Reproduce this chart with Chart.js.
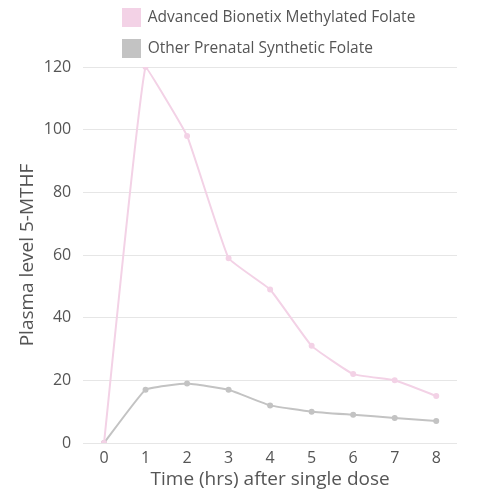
<!DOCTYPE html>
<html>
<head>
<meta charset="utf-8">
<script src="https://cdn.jsdelivr.net/npm/chart.js@4"></script>
<style>
    html, body { margin: 0; padding: 0; background: #fff; }
    #wrap { width: 500px; height: 500px; }
</style>
</head>
<body>
<div id="wrap"><canvas id="folateChart"></canvas></div>
<script>
const hours = ["0", "1", "2", "3", "4", "5", "6", "7", "8"];
const bionetixLevels = [0, 120, 98, 59, 49, 31, 22, 20, 15];
const syntheticLevels = [0, 17, 19, 17, 12, 10, 9, 8, 7];
const yTicks = [0, 20, 40, 60, 80, 100, 120];

const pink = "#f3d2e6";
const grey = "#c3c3c3";
const textColor = "#555555";
const fontFamily = "'Open Sans'";

// push the legend over to the right, the reference has it hanging above the plot
const legendShift = {
    id: "legendShift",
    afterLayout(chart) {
        chart.legend.left += 93;
        chart.legend.right += 93;
    }
};

const ctx = document.getElementById("folateChart").getContext("2d");

new Chart(ctx, {
    type: "line",
    data: {
        labels: hours,
        datasets: [
            {
                label: "Advanced Bionetix Methylated Folate",
                data: bionetixLevels,
                borderColor: pink,
                backgroundColor: pink,
                borderWidth: 2,
                pointRadius: 2,
                pointHoverRadius: 2,
                tension: 0.1
            },
            {
                label: "Other Prenatal Synthetic Folate",
                data: syntheticLevels,
                borderColor: grey,
                backgroundColor: grey,
                borderWidth: 2,
                pointRadius: 2,
                pointHoverRadius: 2,
                tension: 0.1
            }
        ]
    },
    options: {
        responsive: true,
        maintainAspectRatio: false,
        animation: false,
        layout: {
            padding: { top: -5, right: 43, bottom: 9, left: 16 }
        },
        plugins: {
            legend: {
                position: "top",
                align: "start",
                labels: {
                    boxWidth: 17,
                    boxHeight: 17,
                    padding: 14,
                    color: textColor,
                    font: { family: fontFamily, size: 15.5 }
                }
            },
            tooltip: { enabled: false }
        },
        scales: {
            x: {
                offset: true,
                grid: { display: false, drawTicks: false },
                border: { display: false },
                ticks: {
                    color: textColor,
                    padding: 6,
                    font: { family: fontFamily, size: 16 }
                },
                title: {
                    display: true,
                    text: "Time (hrs) after single dose",
                    color: textColor,
                    padding: { top: -6, bottom: 0 },
                    font: { family: fontFamily, size: 19 }
                }
            },
            y: {
                min: 0,
                max: 120,
                afterBuildTicks(axis) {
                    axis.ticks = yTicks.map((v) => ({ value: v }));
                },
                grid: {
                    color: "#e6e6e6",
                    drawTicks: false
                },
                border: { display: false },
                ticks: {
                    color: textColor,
                    padding: 12,
                    font: { family: fontFamily, size: 16 }
                },
                title: {
                    display: true,
                    text: "Plasma level 5-MTHF",
                    color: textColor,
                    padding: { top: 0, bottom: -7 },
                    font: { family: fontFamily, size: 19 }
                }
            }
        }
    },
    plugins: [legendShift]
});
</script>
</body>
</html>
